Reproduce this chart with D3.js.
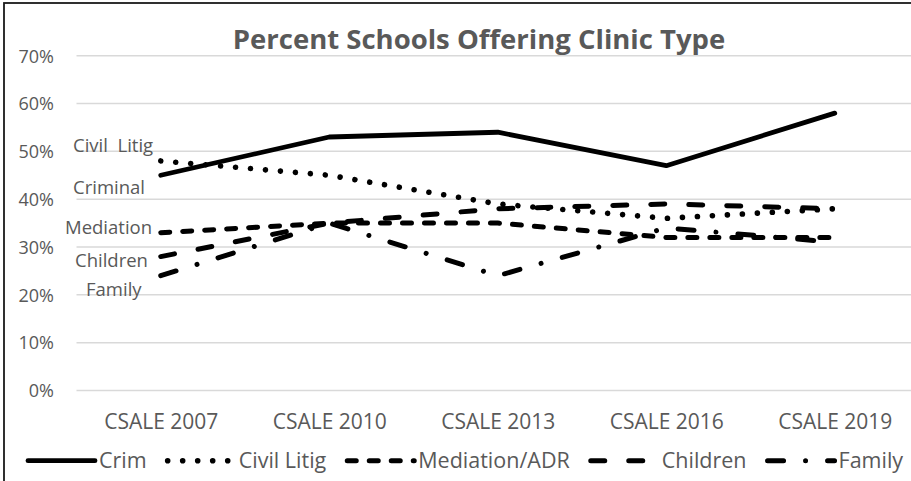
<!DOCTYPE html>
<html><head><meta charset="utf-8">
<script src="https://cdn.jsdelivr.net/npm/d3@7"></script>
<style>
html,body{margin:0;padding:0;background:#fff;overflow:hidden}
svg{display:block}
text{font-family:"Open Sans",sans-serif;fill:#595959}
</style></head>
<body>
<svg id="chart" width="911" height="481"></svg>
<script>
const categories = ["CSALE 2007","CSALE 2010","CSALE 2013","CSALE 2016","CSALE 2019"];
const crim      = [45, 53, 54, 47, 58];
const civilLitig= [48, 45, 39, 36, 38];
const mediation = [33, 35, 35, 32, 32];
const children  = [28, 35, 38, 39, 38];
const family    = [24, 35, 24, 34, 31];
const yTicks = [0,10,20,30,40,50,60,70];
const seriesNames = ["Crim","Civil Litig","Mediation/ADR","Children","Family"];
const pointLabels = ["Criminal","Civil  Litig","Mediation","Children","Family"];
const title = "Percent Schools Offering Clinic Type";

const seriesValues = [crim, civilLitig, mediation, children, family];
const dashes = [null, "0.01,15", "9,13", "14,24", "16,22,0.01,22"];
const widths = [4.8, 5.6, 5, 5, 5];
// label placement (start x, baseline y) for the left-side point labels
const labelPos = [[73,194],[73,151.5],[65,234],[75,267],[86,296]];

const svg = d3.select("#chart");
const plotL = 76.5, plotR = 919, plotT = 55.7, plotB = 390.5;

const x = d3.scalePoint().domain(categories).range([plotL, plotR]).padding(0.5);
const y = d3.scaleLinear().domain([0,70]).range([plotB, plotT]);

// border
svg.append("rect").attr("x",4).attr("y",3).attr("width",1000).attr("height",1000)
  .attr("fill","none").attr("stroke","#1a1a1a").attr("stroke-width",1.8);

// gridlines
svg.append("g").selectAll("line").data(yTicks).join("line")
  .attr("x1",plotL).attr("x2",plotR)
  .attr("y1",d=>y(d)).attr("y2",d=>y(d))
  .attr("stroke","#d9d9d9").attr("stroke-width",1.5);

// y axis labels
const yAxis = d3.axisLeft(y).tickValues(yTicks).tickFormat(d=>d+"%").tickSize(0).tickPadding(0);
const gy = svg.append("g").attr("transform","translate(54,0)").call(yAxis);
gy.select(".domain").remove();
gy.selectAll("text").attr("font-size",18).attr("font-family","Open Sans").attr("fill","#595959").attr("dy","0.35em");

// x axis labels
const xAxis = d3.axisBottom(x).tickSize(0).tickPadding(0);
const gx = svg.append("g").attr("transform","translate(0,413)").call(xAxis);
gx.select(".domain").remove();
gx.selectAll("text").attr("font-size",21).attr("font-family","Open Sans").attr("fill","#595959").attr("dy","0.78em");

// title
svg.append("text").attr("x",479).attr("y",49).attr("text-anchor","middle")
  .attr("font-size",27.5).attr("font-weight","bold").text(title);

// lines
const line = d3.line().x((d,i)=>x(categories[i])).y(d=>y(d));
for (let s = seriesValues.length-1; s >= 0; s--) {
  svg.append("path").datum(seriesValues[s]).attr("d",line)
    .attr("fill","none").attr("stroke","#000").attr("stroke-width",widths[s])
    .attr("stroke-linecap","round").attr("stroke-linejoin","round")
    .attr("stroke-dasharray",dashes[s]);
}

// point labels
pointLabels.forEach((t,i)=>{
  svg.append("text").attr("x",labelPos[i][0]).attr("y",labelPos[i][1])
    .attr("font-size",18.5).attr("xml:space","preserve").style("white-space","pre").text(t);
});

// legend
const legY = 460.7, legBase = 467.5;
let lx = 28;
seriesNames.forEach((n,i)=>{
  svg.append("line").attr("x1",lx).attr("x2",lx+67).attr("y1",legY).attr("y2",legY)
    .attr("stroke","#000").attr("stroke-width",widths[i]).attr("stroke-linecap","round")
    .attr("stroke-dasharray",dashes[i]);
  const t = svg.append("text").attr("x",lx+71).attr("y",legBase).attr("font-size",21.5).text(n);
  lx = lx + 71 + t.node().getComputedTextLength() + 21;
});
</script>
</body></html>
